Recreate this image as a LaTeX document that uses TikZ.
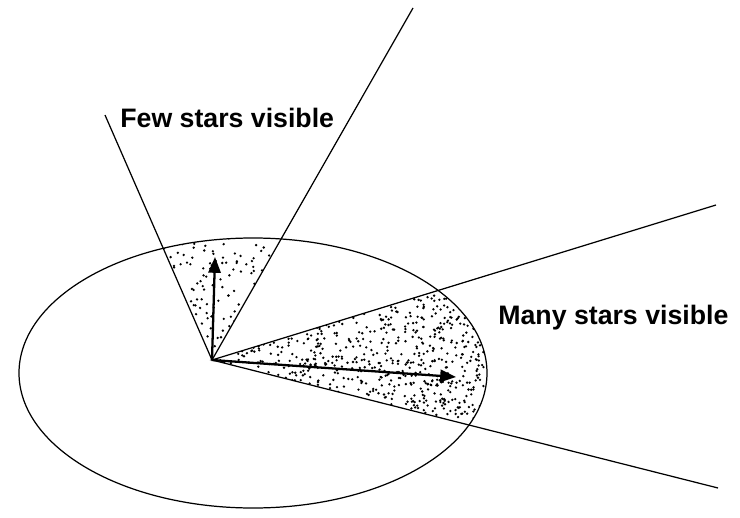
\documentclass[tikz,border=0pt]{standalone}
\usepackage{fontspec}
\setsansfont{Liberation Sans}
\usetikzlibrary{arrows.meta}

\begin{document}
\begin{tikzpicture}[
    x=0.02cm, y=-0.02cm,
    % Styles
    rayline/.style={line width=0.7pt, black},
    viewarrow/.style={-{Triangle[length=9pt, width=7pt]}, line width=1.3pt, black},
    label/.style={font=\sffamily\bfseries\fontsize{15.2}{18}\selectfont, inner sep=0pt},
    stardot/.style={fill=black}
]
\useasboundingbox (0,0) rectangle (740,517);

% ==================== CONE ENDS ====================
\coordinate (eye) at (212,360);
\coordinate (fewl) at (105,115);
\coordinate (fewr) at (413,8);
\coordinate (manyu) at (716,205);
\coordinate (manyd) at (718,488);
\coordinate (uptip) at (215,257);
\coordinate (sidetip) at (456,377);

% ==================== STIPPLE ====================
\pgfmathsetseed{4711}
\begin{scope}
    \clip (253,373) ellipse [x radius=234, y radius=135];
    \clip (eye) -- (fewl) -- (fewr) -- cycle;
    \foreach \i in {1,...,230} {
        \pgfmathsetmacro\px{150+140*rnd}
        \pgfmathsetmacro\py{235+125*rnd}
        \fill[stardot] (\px,\py) circle (1.3);
    }
\end{scope}
\begin{scope}
    \clip (253,373) ellipse [x radius=234, y radius=135];
    \clip (eye) -- (manyu) -- (manyd) -- cycle;
    \foreach \i in {1,...,1300} {
        \pgfmathsetmacro\px{212+280*rnd}
        \pgfmathsetmacro\py{280+170*rnd}
        \fill[stardot] (\px,\py) circle (1.3);
    }
\end{scope}

% ==================== ELLIPSE AND RAYS ====================
\draw[rayline] (253,373) ellipse [x radius=234, y radius=135];
\draw[rayline] (fewl) -- (eye) -- (fewr);
\draw[rayline] (manyu) -- (eye) -- (manyd);

% ==================== ARROWS ====================
\draw[viewarrow] (eye) -- (uptip);
\draw[viewarrow] (eye) -- (sidetip);

% ==================== LABELS ====================
\node[label, anchor=west] (few) at (120,118) {Few stars visible};
\node[label, anchor=west] (many) at (498,318) {Many stars visible};

\end{tikzpicture}
\end{document}
